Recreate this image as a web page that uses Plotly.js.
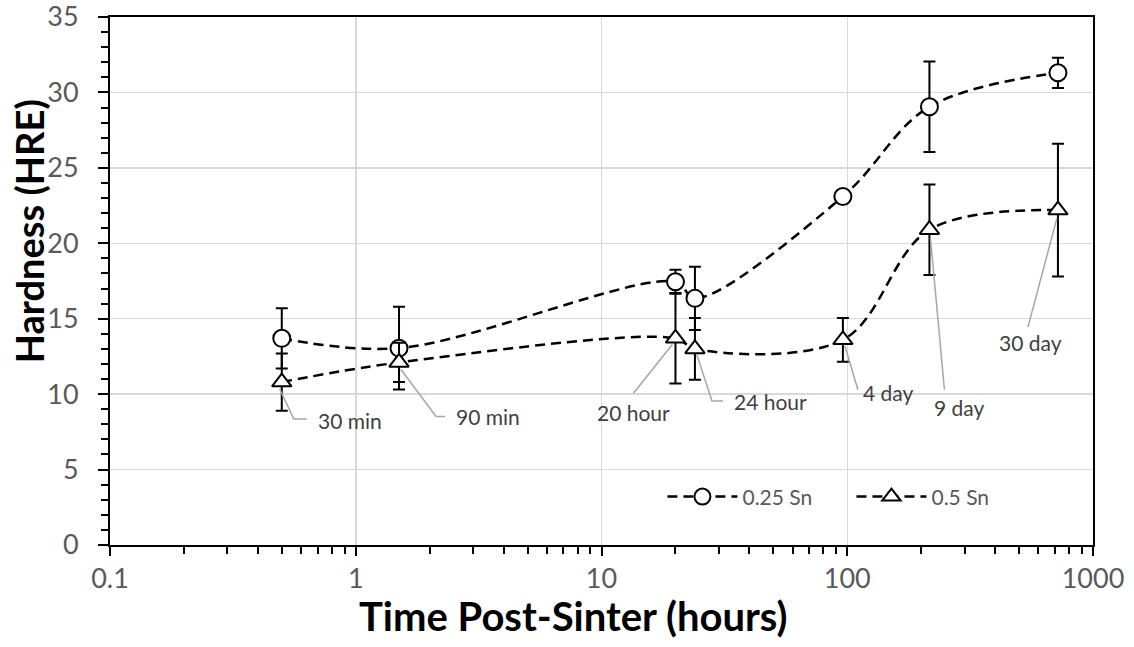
<!DOCTYPE html>
<html>
<head>
<meta charset="utf-8">
<script src="https://cdn.plot.ly/plotly-3.0.1.min.js"></script>
<style>html,body{margin:0;padding:0;background:#fff;}#chart{width:1134px;height:647px;}</style>
</head>
<body>
<div id="chart"></div>
<script>
// Data
const timeHours = [0.5, 1.5, 20, 24, 96, 216, 720];
const sn025 = [13.7, 13.05, 17.45, 16.35, 23.1, 29.05, 31.3];
const sn025Err = [2.0, 2.75, 0.8, 2.1, 0.3, 3.0, 1.0];
const sn05 = [10.8, 12.1, 13.7, 13.0, 13.6, 20.9, 22.2];
const sn05Err = [1.9, 1.3, 3.0, 2.05, 1.45, 3.0, 4.4];
const pointLabels = ["30 min", "90 min", "20 hour", "24 hour", "4 day", "9 day", "30 day"];
const seriesNames = ["0.25 Sn", "0.5 Sn"];
const xTickVals = [0.1, 1, 10, 100, 1000];
const xTickText = ["0.1", "1", "10", "100", "1000"];

// label layout (pixel offsets relative to each 0.5 Sn point; screen coords, +dy = down)
const labelStyle = [
  {leader: [[-2, 7], [12, 37], [25, 37]], tx: 34, ty: 38, anchor: "left"},
  {leader: [[2, 7], [37, 54], [46, 54]], tx: 55, ty: 54, anchor: "left"},
  {leader: [[-3, 6], [-42, 55]], tx: -42, ty: 74, anchor: "center"},
  {leader: [[2, 6], [17, 52], [28, 52]], tx: 37, ty: 53, anchor: "left"},
  {leader: [[2, 6], [15, 50]], tx: 18, ty: 53, anchor: "left"},
  {leader: [[1, 8], [15, 160]], tx: 30, ty: 178, anchor: "center"},
  {leader: [[-1, 8], [-30, 117]], tx: -27, ty: 132, anchor: "center"}
];

const FONT = "Lato, 'Open Sans', sans-serif";

const traces = [
  {
    x: timeHours, y: sn025, name: seriesNames[0], type: "scatter", mode: "lines+markers",
    line: {color: "#000", width: 2.5, dash: "10px,6px", shape: "spline", smoothing: 1},
    marker: {symbol: "circle", size: 17, color: "#fff", line: {color: "#000", width: 2}},
    error_y: {type: "data", array: sn025Err, visible: true, color: "#000", thickness: 2, width: 6}
  },
  {
    x: timeHours, y: sn05, name: seriesNames[1], type: "scatter", mode: "lines+markers",
    line: {color: "#000", width: 2.5, dash: "10px,6px", shape: "spline", smoothing: 1},
    marker: {symbol: "triangle-up", size: 17, color: "#fff", line: {color: "#000", width: 2}},
    error_y: {type: "data", array: sn05Err, visible: true, color: "#000", thickness: 2, width: 6}
  }
];

const shapes = [];
const annotations = [];
for (let i = 0; i < timeHours.length; i++) {
  const st = labelStyle[i];
  const d = st.leader.map((p, k) => (k === 0 ? "M" : "L") + p[0] + "," + (-p[1])).join(" ");
  shapes.push({
    type: "path", xref: "x", yref: "y",
    xsizemode: "pixel", ysizemode: "pixel",
    xanchor: timeHours[i], yanchor: sn05[i],
    path: d, line: {color: "#a6a6a6", width: 1.5}, layer: "above"
  });
  annotations.push({
    x: Math.log10(timeHours[i]), y: sn05[i], xref: "x", yref: "y",
    text: pointLabels[i], showarrow: false,
    xanchor: st.anchor, yanchor: "middle",
    xshift: st.tx, yshift: -st.ty,
    font: {family: FONT, size: 21, color: "#404040"}
  });
}
// axis titles
annotations.push({
  xref: "paper", yref: "paper", x: 0.472, y: -0.135, xanchor: "center", yanchor: "middle",
  text: "<b>Time Post-Sinter (hours)</b>", showarrow: false,
  font: {family: FONT, size: 40, color: "#000"}
});
annotations.push({
  xref: "paper", yref: "paper", x: -0.083, y: 0.595, xanchor: "center", yanchor: "middle",
  text: "<b>Hardness (HRE)</b>", showarrow: false, textangle: -90,
  font: {family: FONT, size: 38, color: "#000"}
});

const layout = {
  width: 1134, height: 647,
  margin: {l: 110, r: 41, t: 17, b: 102, autoexpand: false},
  paper_bgcolor: "#fff", plot_bgcolor: "#fff",
  font: {family: FONT, color: "#595959"},
  showlegend: true,
  legend: {
    orientation: "h", x: 0.562, y: 0.091, xanchor: "left", yanchor: "middle",
    font: {family: FONT, size: 21, color: "#595959"},
    bgcolor: "rgba(0,0,0,0)", itemwidth: 70, tracegroupgap: 0,
    entrywidth: 104, entrywidthmode: "pixels"
  },
  xaxis: {
    type: "log", range: [-1, 3], automargin: false,
    tickmode: "array", tickvals: xTickVals, ticktext: xTickText,
    ticks: "outside", ticklen: 9, tickwidth: 2, tickcolor: "#000",
    ticklabelstandoff: 0, ticklabeloverflow: "allow",
    minor: {ticks: "outside", ticklen: 7, tickwidth: 2, tickcolor: "#000", dtick: "D1", showgrid: false},
    showline: true, linecolor: "#000", linewidth: 2, mirror: true,
    showgrid: true, gridcolor: "#d9d9d9", gridwidth: 1.5,
    zeroline: false,
    tickfont: {family: FONT, size: 27, color: "#595959"}
  },
  yaxis: {
    range: [0, 35], tickmode: "linear", tick0: 0, dtick: 5, automargin: false,
    ticks: "outside", ticklen: 10, tickwidth: 2, tickcolor: "#000",
    ticklabelstandoff: 14, ticklabeloverflow: "allow",
    minor: {ticks: "outside", ticklen: 7, tickwidth: 2, tickcolor: "#000", dtick: 1, showgrid: false},
    showline: true, linecolor: "#000", linewidth: 2, mirror: true,
    showgrid: true, gridcolor: "#d9d9d9", gridwidth: 1.5,
    zeroline: false,
    tickfont: {family: FONT, size: 27, color: "#595959"}
  },
  shapes: shapes,
  annotations: annotations
};

Plotly.newPlot("chart", traces, layout, {displayModeBar: false, staticPlot: true});
</script>
</body>
</html>
